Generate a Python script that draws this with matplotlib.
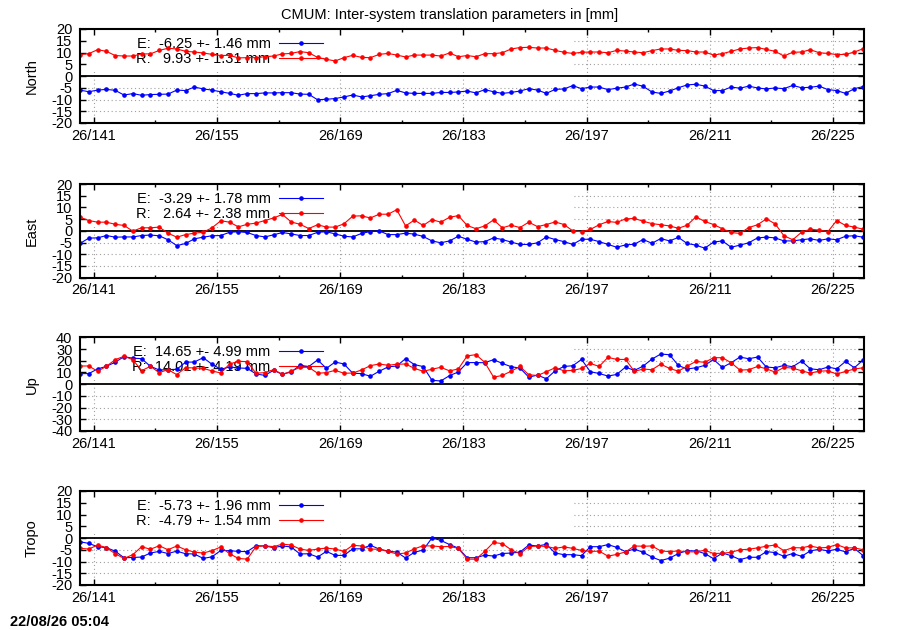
import numpy as np
import matplotlib
matplotlib.use('Agg')
import matplotlib.pyplot as plt
from matplotlib.patches import Rectangle

plt.rcParams['font.family'] = ['Liberation Sans', 'DejaVu Sans']
plt.rcParams['axes.unicode_minus'] = False
FS = 10.5

# ---------------- data ----------------
title = "CMUM: Inter-system translation parameters in [mm]"
timestamp = "22/08/26 05:04"

first_day = 139.42
n_days = 90
days = first_day + np.arange(n_days)          # one solution per day

xtick_days = [141, 155, 169, 183, 197, 211, 225]
xtick_labels = ['26/141', '26/155', '26/169', '26/183', '26/197', '26/211', '26/225']
xminor_days = [148, 162, 176, 190, 204, 218]

panel_names = ['North', 'East', 'Up', 'Tropo']

legend_E = ["E:  -6.25 +- 1.46 mm", "E:  -3.29 +- 1.78 mm",
            "E:  14.65 +- 4.99 mm", "E:  -5.73 +- 1.96 mm"]
legend_R = ["R:   9.93 +- 1.31 mm", "R:   2.64 +- 2.38 mm",
            "R:  14.01 +- 4.19 mm", "R:  -4.79 +- 1.54 mm"]

north_E = [-6.0, -6.7, -6.0, -5.7, -6.1, -8.1, -7.5, -8.2, -7.9, -7.8,
           -7.7, -6.0, -6.2, -4.7, -5.5, -6.0, -6.7, -7.4, -8.2, -7.5,
           -7.5, -7.2, -7.2, -7.1, -7.1, -7.7, -7.8, -10.1, -9.9, -9.6,
           -8.9, -8.1, -8.9, -8.4, -7.8, -7.5, -6.1, -7.2, -7.4, -7.4,
           -7.4, -7.0, -7.0,
           -6.8, -6.4, -7.2, -5.8, -6.7, -7.4, -7.0, -6.4, -5.4, -6.0,
           -7.4, -5.7, -5.5, -4.1, -5.4, -4.7, -4.7, -5.8, -5.2, -4.7,
           -3.4, -4.4, -6.8, -7.4, -6.4, -5.0, -3.8, -3.5, -4.3, -6.2,
           -6.2, -4.7, -5.2, -4.3, -5.1, -5.5, -5.1, -5.4, -4.0, -5.0,
           -4.8, -4.3, -5.8, -6.2, -7.4, -5.4, -4.5]
north_R = [9.1, 9.5, 11.2, 10.5, 8.7, 8.5, 8.5, 9.4, 9.4, 10.9,
           11.8, 11.5, 10.5, 10.2, 9.8, 9.2, 8.7, 8.8, 7.7, 7.8,
           7.8, 8.2, 8.5, 9.4, 9.6, 10.4, 9.9, 7.9, 7.1, 6.4,
           7.8, 8.8, 7.9, 7.8, 9.2, 9.6, 8.9, 8.1, 8.9, 8.9,
           8.9, 8.5, 9.8,
           8.2, 8.7, 8.2, 9.5, 9.5, 9.9, 11.5, 12.1, 12.2, 11.9,
           11.9, 10.9, 10.1, 9.6, 10.1, 10.2, 10.2, 9.9, 10.9, 10.6,
           10.2, 9.9, 10.8, 11.5, 11.5, 10.9, 10.8, 10.2, 10.2, 8.9,
           9.5, 10.5, 11.5, 11.9, 12.1, 11.3, 10.5, 8.5, 10.1, 10.2,
           11.2, 9.9, 9.6, 9.1, 9.2, 10.2, 11.6]

east_E = [-5.4, -3.1, -3.0, -2.0, -2.7, -2.6, -2.6, -2.0, -1.8, -2.1,
          -3.8, -6.3, -5.4, -3.4, -2.7, -2.1, -2.0, -0.6, -0.4, -0.7,
          -2.0, -2.6, -1.7, -0.7, -1.3, -2.0, -2.0, -0.6, -0.4, -1.3,
          -2.3, -2.6, -1.1, -0.3, 0.0, -1.6, -1.6, -1.0, -1.4, -2.4,
          -4.3, -5.1, -4.3, -2.3, -3.6, -4.8,
          -4.6, -3.0, -3.7, -4.8, -5.8, -5.8, -5.1, -2.6, -3.7, -4.6,
          -5.8, -3.6, -3.6, -4.6, -5.8, -7.0, -6.0, -5.7, -3.7, -5.3,
          -3.3, -4.3, -2.8, -5.4, -6.1, -7.4, -4.8, -4.3, -7.0, -6.1,
          -5.1, -3.0, -2.7, -3.0, -4.3, -4.3, -3.8, -3.4, -4.1, -3.4,
          -3.8, -2.3, -2.1, -2.7]
east_R = [5.8, 4.4, 3.7, 3.7, 2.8, 2.3, -0.1, 1.3, 1.3, 1.6,
          -1.0, -2.7, -1.6, -1.0, -0.6, 1.3, 4.3, 3.7, 1.7, 2.8,
          3.3, 4.4, 5.5, 7.0, 3.8, 2.8, 1.0, 2.6, 1.6, 1.6,
          3.0, 6.3, 6.4, 5.5, 7.1, 7.1, 9.0, 2.1, 4.6, 2.3,
          4.8, 3.7, 5.8, 6.5, 2.3, 0.9,
          2.1, 4.7, 1.3, 2.4, 1.4, 3.7, 1.8, 2.7, 3.8, 2.7,
          0.0, -0.4, 0.6, 2.6, 4.0, 3.6, 5.1, 5.3, 4.1, 3.1,
          2.6, 2.1, 1.1, 2.4, 6.0, 4.0, 2.7, 0.9, -0.7, -1.1,
          1.4, 2.6, 5.1, 3.0, -2.1, -3.8, -0.6, 0.7, 0.3, -0.3,
          4.4, 2.3, 1.6, 0.7]

up_E = [9.0, 9.0, 13.0, 15.2, 18.7, 23.5, 22.1, 21.8, 15.2, 12.1,
        12.4, 12.7, 18.7, 18.9, 22.6, 17.0, 12.7, 14.7, 13.8, 13.5,
        8.7, 7.5, 11.8, 8.4, 10.4, 16.1, 15.0, 20.7, 13.5, 18.9,
        17.2, 9.3, 9.0, 6.7, 11.0, 14.7, 15.5, 21.8, 16.7, 15.0,
        3.3, 2.7, 7.3, 10.4, 18.4, 18.4,
        18.3, 20.9, 17.7, 14.9, 13.7, 6.0, 7.7, 4.6, 11.4, 15.1,
        15.7, 21.1, 10.6, 9.1, 6.9, 8.3, 14.6, 11.7, 15.4, 21.4,
        25.7, 25.1, 16.0, 12.9, 14.0, 16.0, 21.1, 14.3, 18.3, 23.1,
        21.7, 23.1, 14.6, 14.0, 16.0, 14.9, 19.7, 13.1, 12.3, 14.6,
        13.1, 19.4, 14.0, 20.6]
up_R = [15.5, 15.5, 11.0, 15.2, 20.9, 23.8, 20.9, 11.5, 15.2, 9.8,
        12.4, 8.1, 14.1, 13.8, 13.5, 11.3, 9.5, 17.2, 19.5, 19.2,
        9.3, 9.8, 12.4, 8.4, 11.0, 14.4, 14.4, 9.3, 9.8, 11.8,
        9.3, 9.5, 12.1, 15.8, 17.2, 16.1, 17.0, 17.2, 13.5, 11.0,
        12.7, 14.4, 11.3, 13.0, 24.1, 25.2,
        18.6, 6.0, 7.4, 11.1, 15.1, 8.0, 7.4, 10.6, 14.0, 11.4,
        11.7, 13.4, 17.7, 15.1, 22.9, 21.1, 21.1, 10.9, 12.9, 12.3,
        17.1, 13.4, 11.1, 15.4, 19.4, 18.6, 22.6, 22.6, 18.3, 12.0,
        12.3, 15.1, 13.1, 10.3, 14.3, 13.7, 11.4, 9.4, 11.1, 11.4,
        8.6, 10.9, 12.9, 14.0]

tropo_E = [-1.6, -2.3, -3.7, -4.1, -5.6, -8.4, -8.3, -8.1, -6.4, -5.7,
           -6.6, -5.6, -6.7, -6.8, -8.7, -8.0, -5.3, -5.4, -5.7, -5.8,
           -3.3, -3.4, -4.1, -3.4, -3.8, -6.8, -6.7, -8.1, -5.7, -7.4,
           -7.4, -4.6, -4.6, -3.1, -4.7, -5.6, -6.0, -8.5, -6.1, -5.1,
           0.0, -1.0, -2.8, -4.3, -8.4, -8.4, -7.3, -7.7, -6.6, -6.4,
           -6.0, -3.0, -3.4, -2.7, -6.4, -7.1, -7.1, -7.5, -3.7, -3.7,
           -2.8, -4.0,
           -5.8, -4.7, -6.1, -8.1, -9.6, -8.6, -6.6, -5.4, -5.5, -6.6,
           -8.8, -6.4, -7.5, -9.2, -8.2, -8.2, -5.8, -6.2, -7.8, -6.6,
           -7.8, -5.5, -4.8, -5.5, -4.8, -5.9, -4.4, -7.5]
tropo_R = [-4.4, -4.7, -3.0, -4.1, -6.7, -8.7, -7.1, -3.7, -4.8, -3.3,
           -5.0, -3.4, -5.0, -6.0, -6.4, -5.4, -3.8, -6.7, -8.7, -9.0,
           -3.7, -3.3, -3.7, -2.6, -3.0, -4.7, -5.3, -4.7, -4.3, -4.7,
           -5.7, -3.1, -3.4, -4.7, -4.8, -5.7, -6.8, -6.4, -4.6, -3.3,
           -3.4, -3.7, -3.6, -4.4, -9.0, -9.0, -5.7, -1.9, -2.4, -5.0,
           -6.7, -3.7, -3.4, -3.6, -4.4, -3.8, -4.4, -5.3, -5.7, -5.6,
           -7.7, -7.0,
           -5.9, -3.4, -3.5, -3.4, -5.5, -5.8, -5.5, -5.9, -5.9, -5.2,
           -6.6, -6.5, -6.1, -5.0, -4.8, -4.2, -3.5, -3.0, -5.4, -4.1,
           -4.2, -3.4, -4.2, -4.0, -2.8, -4.2, -4.2, -5.0]

series_E = [north_E, east_E, up_E, tropo_E]
series_R = [north_R, east_R, up_R, tropo_R]
y_ranges = [(-20, 20, 5), (-20, 20, 5), (-40, 40, 10), (-20, 20, 5)]

# ---------------- layout (pixels) ----------------
W, H = 900, 630
ax_left, ax_right = 80, 864
panel_px = [(29, 123), (184, 277.7), (337.3, 431), (491, 585)]
key_box_right_px = 573

BLUE = '#0000ff'
RED = '#ff0000'
GRID = '#a0a0a0'

fig = plt.figure(figsize=(W / 100, H / 100), dpi=100)
fig.patch.set_facecolor('white')

for i in range(4):
    top, bot = panel_px[i]
    ax = fig.add_axes([ax_left / W, 1 - bot / H, (ax_right - ax_left) / W, (bot - top) / H])
    ymin, ymax, ystep = y_ranges[i]
    ax.set_xlim(first_day, 228.52)
    ax.set_ylim(ymin, ymax)

    yt = np.arange(ymin, ymax + ystep / 2, ystep)
    ax.set_yticks(yt)
    ax.set_yticklabels([str(int(v)) for v in yt], fontsize=FS)
    ax.set_xticks(xtick_days)
    ax.set_xticklabels(xtick_labels, fontsize=FS)
    ax.set_xticks(xminor_days, minor=True)

    ax.tick_params(axis='both', which='major', direction='in', length=4.3, width=1.0,
                   top=True, right=True, color='black')
    ax.tick_params(axis='x', which='minor', direction='in', length=2.4, width=1.0,
                   top=True, bottom=True)
    ax.tick_params(axis='y', which='major', pad=5.5)
    ax.tick_params(axis='x', which='major', pad=4)
    for sp in ax.spines.values():
        sp.set_linewidth(1.5)
        sp.set_zorder(3)

    # dotted grid
    for xv in xtick_days:
        ax.axvline(xv, color=GRID, lw=0.8, ls=(0, (1, 2.5)), zorder=0.9)
    for yv in yt[1:-1]:
        if yv != 0:
            ax.axhline(yv, color=GRID, lw=0.8, ls=(0, (1, 2.5)), zorder=0.9)

    # opaque key area
    ax.add_patch(Rectangle((0.0, 0.545), (key_box_right_px - ax_left) / (ax_right - ax_left), 0.455,
                           transform=ax.transAxes, facecolor='white', edgecolor='none', zorder=1.0))

    # zero axis
    ax.axhline(0, color='black', lw=1.3, zorder=1.8)

    lE, = ax.plot(days, series_E[i], color=BLUE, lw=0.8, marker='o', ms=2.3,
                  mec=BLUE, mfc=BLUE, zorder=2.0, label=legend_E[i])
    lR, = ax.plot(days, series_R[i], color=RED, lw=0.8, marker='o', ms=2.3,
                  mec=RED, mfc=RED, zorder=2.1, label=legend_R[i])

    leg = ax.legend(handles=[lE, lR], loc='upper right', bbox_to_anchor=(0.31, 0.915),
                    frameon=False, fontsize=FS, markerfirst=False, handlelength=3.0,
                    handletextpad=0.6, labelspacing=0.05, borderpad=0, borderaxespad=0,
                    numpoints=1)
    leg.set_zorder(1.2)

    fig.text(32 / W, 1 - ((top + bot) / 2) / H, panel_names[i], rotation=90,
             ha='center', va='center', fontsize=FS)

fig.text(0.5, 1 - 14.5 / H, title, ha='center', va='center', fontsize=FS)
fig.text(10 / W, 1 - 622 / H, timestamp, ha='left', va='center', fontsize=FS, fontweight='bold')

fig.savefig('out.png', dpi=100, facecolor='white')
